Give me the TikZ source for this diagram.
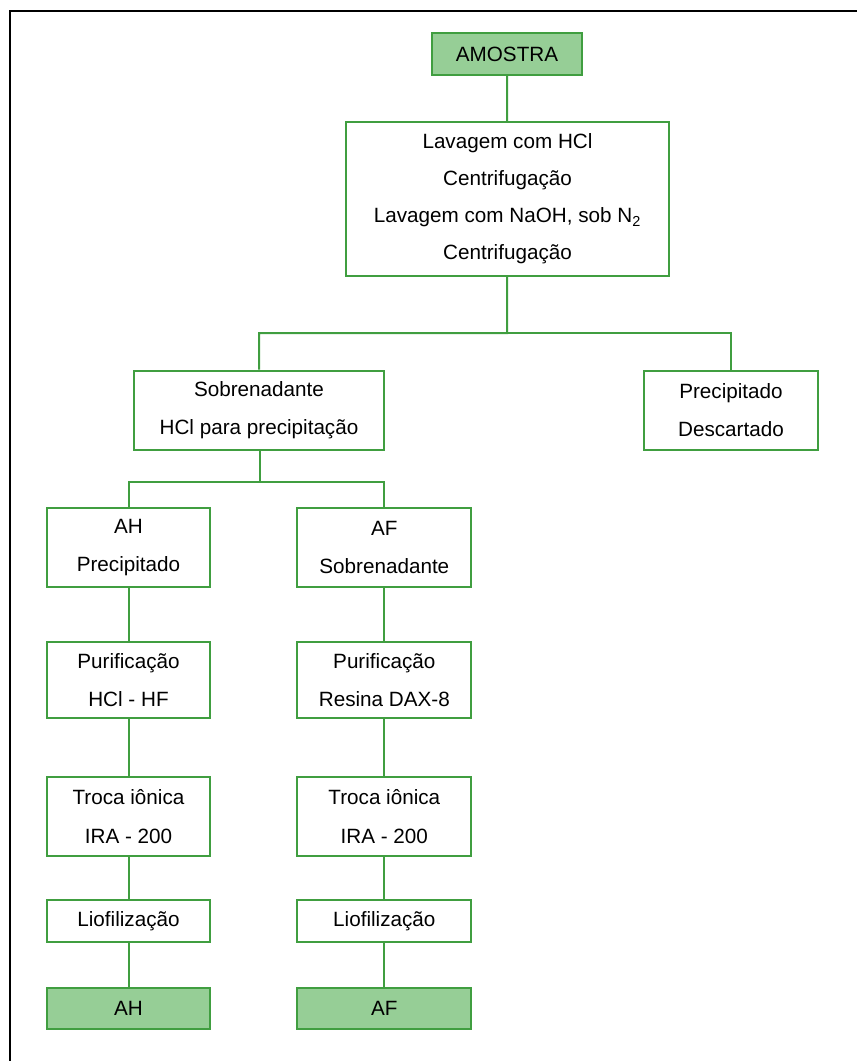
\documentclass[tikz,border=0pt]{standalone}
\usepackage{fontspec}
\setmainfont{Liberation Sans}
\usetikzlibrary{positioning}
\definecolor{boxgreen}{RGB}{64,158,64}
\definecolor{fillgreen}{RGB}{150,206,150}
\begin{document}
\begin{tikzpicture}[x=0.75pt,y=-0.75pt,node distance=64pt, % pixel grid
  box/.style={draw=boxgreen, line width=1.5pt, align=center, inner sep=0pt,
    font=\fontsize{15.5}{28.75}\selectfont},
  endbox/.style={box, fill=fillgreen},
  link/.style={draw=boxgreen, line width=1.5pt}]
  \useasboundingbox (0,0) rectangle (857,1061);
  \draw[line width=1.5pt] (10,1061) -- (10,11) -- (857,11);

  \node[endbox, minimum width=112.5pt, minimum height=31.5pt] (AM) at (507,54) {AMOSTRA};
  \node[box, minimum width=242pt, minimum height=115.5pt,
    font=\fontsize{15.5}{27.75}\selectfont] (LAV) at (507.5,199)
    {Lavagem com HCl\\Centrifugação\\Lavagem com NaOH, sob N\textsubscript{2}\\Centrifugação};
  \node[box, minimum width=187.5pt, minimum height=59.25pt] (SOB) at (259,410) {Sobrenadante\\HCl para precipitação};
  \node[box, minimum width=130.5pt, minimum height=59.25pt] (PD) at (731,410) {Precipitado\\Descartado};

  \node[box, minimum width=122.25pt, minimum height=59.25pt] (AHP) at (128.5,547.5) {AH\\Precipitado};
  \node[box, minimum width=122.25pt, minimum height=57pt] (PH) at (128.5,680) {Purificação\\HCl - HF};
  \node[box, minimum width=122.25pt, minimum height=59.25pt] (TH) at (128.5,816.5) {Troca iônica\\IRA - 200};
  \node[box, minimum width=122.25pt, minimum height=31.5pt] (LH) at (128.5,921) {Liofilização};
  \node[endbox, minimum width=122.25pt, minimum height=30.75pt] (AH) at (128.5,1008.5) {AH};

  \node[box, minimum width=130.5pt, minimum height=59.25pt, right=of AHP] (AFS) {AF\\Sobrenadante};
  \node[box, minimum width=130.5pt, minimum height=57pt, right=of PH] (PF) {Purificação\\Resina DAX-8};
  \node[box, minimum width=130.5pt, minimum height=59.25pt, right=of TH] (TF) {Troca iônica\\IRA - 200};
  \node[box, minimum width=130.5pt, minimum height=31.5pt, right=of LH] (LF) {Liofilização};
  \node[endbox, minimum width=130.5pt, minimum height=30.75pt, right=of AH] (AF) {AF};

  \coordinate (J1) at (507,333);
  \coordinate (J2) at (260,482);

  \draw[link] (AM) -- (LAV);
  \draw[link] (LAV) -- (J1) -| (SOB);
  \draw[link] (J1) -| (PD);
  \draw[link] (SOB.south -| J2) -- (J2) -| (AHP);
  \draw[link] (J2) -| (AFS);
  \draw[link] (AHP) -- (PH);
  \draw[link] (PH) -- (TH);
  \draw[link] (TH) -- (LH);
  \draw[link] (LH) -- (AH);
  \draw[link] (AFS) -- (PF);
  \draw[link] (PF) -- (TF);
  \draw[link] (TF) -- (LF);
  \draw[link] (LF) -- (AF);
\end{tikzpicture}
\end{document}
